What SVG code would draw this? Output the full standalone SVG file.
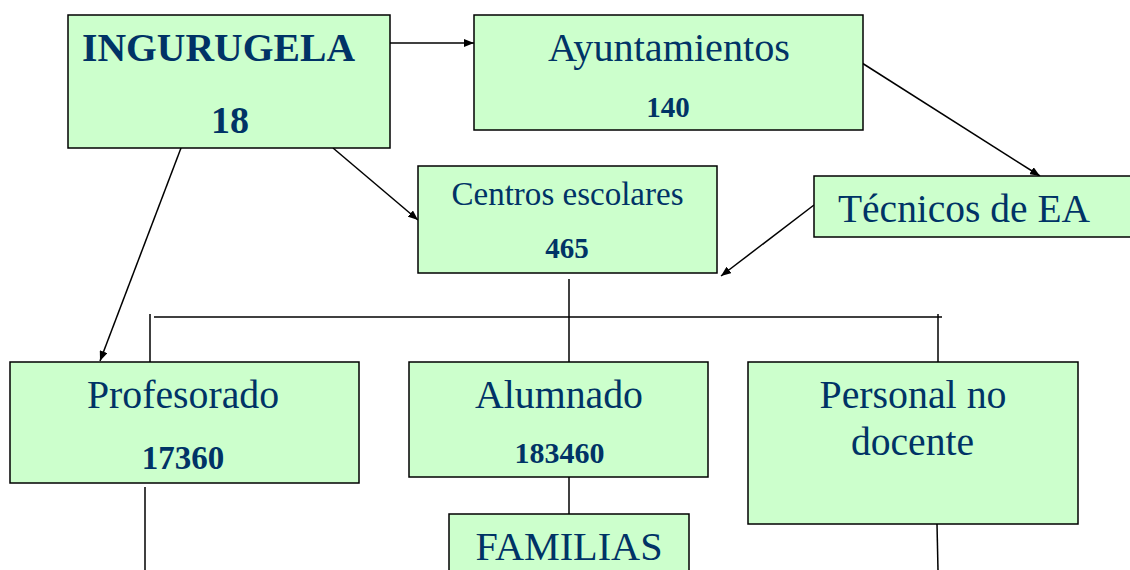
<svg xmlns="http://www.w3.org/2000/svg" width="1130" height="570" viewBox="0 0 1130 570">
<defs>
<marker id="ah" markerWidth="10" markerHeight="8" refX="10" refY="4" orient="auto" markerUnits="userSpaceOnUse"><path d="M0,0 L10,4 L0,8 Z" fill="#000"/></marker>
<style>
.box{fill:#ccffcc;stroke:#000;stroke-width:1.5}
.t{font-family:"Liberation Serif","Times New Roman",serif;fill:#003366;text-anchor:middle}
.b{font-weight:bold}
.c{stroke:#000;stroke-width:1.5;fill:none}
.a{marker-end:url(#ah)}
</style>
</defs>
<rect width="1130" height="570" fill="#fff"/>
<g id="connectors">
<line class="c a" x1="390" y1="43" x2="474" y2="43"/>
<line class="c a" x1="862" y1="63" x2="1040" y2="176"/>
<line class="c a" x1="333" y1="148" x2="418" y2="220"/>
<line class="c a" x1="814" y1="205" x2="721" y2="276"/>
<line class="c a" x1="181" y1="148" x2="100" y2="361"/>
<line class="c" x1="569" y1="279" x2="569" y2="362"/>
<line class="c" x1="154" y1="317" x2="942" y2="317"/>
<line class="c" x1="150" y1="314" x2="150" y2="362" stroke-width="1"/>
<line class="c" x1="938" y1="314" x2="938" y2="362"/>
<line class="c" x1="145" y1="487" x2="145" y2="570" stroke-width="1"/>
<line class="c" x1="569" y1="477" x2="569" y2="514"/>
<line class="c" x1="937" y1="524" x2="938" y2="570"/>
</g>
<g id="ingurugela">
<rect class="box" x="68" y="15" width="322" height="133"/>
<text class="t b" x="218.5" y="61" font-size="40" textLength="273" lengthAdjust="spacingAndGlyphs">INGURUGELA</text>
<text class="t b" x="230" y="133" font-size="38">18</text>
</g>
<g id="ayuntamientos">
<rect class="box" x="474" y="15" width="389" height="115"/>
<text class="t" x="669" y="61" font-size="40" textLength="242" lengthAdjust="spacingAndGlyphs">Ayuntamientos</text>
<text class="t b" x="668" y="117" font-size="29">140</text>
</g>
<g id="centros">
<rect class="box" x="418" y="166" width="299" height="107"/>
<text class="t" x="567.5" y="205" font-size="33" textLength="232" lengthAdjust="spacingAndGlyphs">Centros escolares</text>
<text class="t b" x="567" y="258" font-size="29">465</text>
</g>
<g id="tecnicos">
<rect class="box" x="814" y="176" width="320" height="61"/>
<text class="t" x="964" y="222" font-size="40" textLength="252" lengthAdjust="spacingAndGlyphs">Técnicos de EA</text>
</g>
<g id="profesorado">
<rect class="box" x="10" y="362" width="349" height="121"/>
<text class="t" x="183" y="408" font-size="40" textLength="192" lengthAdjust="spacingAndGlyphs">Profesorado</text>
<text class="t b" x="183" y="469" font-size="33">17360</text>
</g>
<g id="alumnado">
<rect class="box" x="409" y="362" width="299" height="115"/>
<text class="t" x="559" y="408" font-size="40" textLength="168" lengthAdjust="spacingAndGlyphs">Alumnado</text>
<text class="t b" x="559.5" y="463" font-size="30">183460</text>
</g>
<g id="personal">
<rect class="box" x="748" y="362" width="330" height="162"/>
<text class="t" x="913" y="408" font-size="40" textLength="187" lengthAdjust="spacingAndGlyphs">Personal no</text>
<text class="t" x="912.5" y="455" font-size="40" textLength="123" lengthAdjust="spacingAndGlyphs">docente</text>
</g>
<g id="familias">
<rect class="box" x="449" y="514" width="240" height="70"/>
<text class="t" x="569" y="560" font-size="40" textLength="187" lengthAdjust="spacingAndGlyphs">FAMILIAS</text>
</g>
</svg>
